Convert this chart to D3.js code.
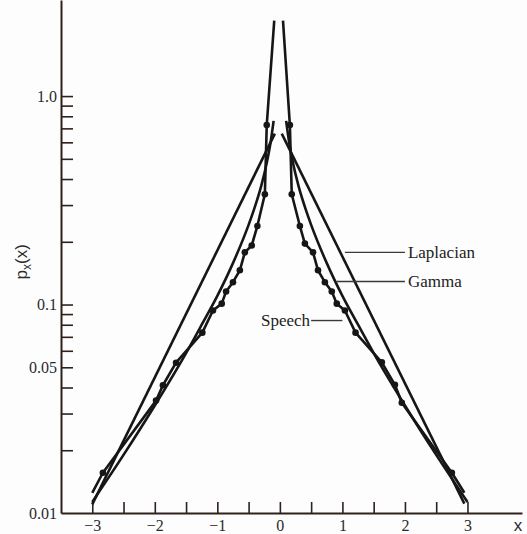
<!DOCTYPE html>
<html>
<head>
<meta charset="utf-8">
<script src="https://cdn.jsdelivr.net/npm/d3@7"></script>
<style>
  body { margin: 0; background: #fdfdfe; }
  svg { display: block; }
</style>
</head>
<body>
<svg id="chart" width="527" height="534"></svg>
<script>
// values
const xTicks = [-3, -2.5, -2, -1.5, -1, -0.5, 0, 0.5, 1, 1.5, 2, 2.5, 3];
const xTickLabels = ['\u22123', '', '\u22122', '', '\u22121', '', '0', '', '1', '', '2', '', '3'];
const yTicks = [0.02, 0.03, 0.04, 0.05, 0.06, 0.07, 0.08, 0.09, 0.1, 0.2, 0.3, 0.4, 0.5, 0.6, 0.7, 0.8, 0.9, 1.0];
const yLabelled = [0.01, 0.05, 0.1, 1.0];

// Laplacian (straight on the log axis)
const laplaceLeftX = [-3.0, -0.08];
const laplaceLeftP = [0.0110, 0.66];
const laplaceRightX = [0.03, 2.95];
const laplaceRightP = [0.66, 0.0111];

// Gamma density
const gammaX = [0.1, 0.15, 0.2, 0.3, 0.4, 0.5, 0.75, 1, 1.25, 1.5, 2, 2.5, 3.0];
const gammaP = [0.76, 0.595, 0.494, 0.369, 0.294, 0.241, 0.158, 0.110, 0.080, 0.0585, 0.0328, 0.0190, 0.0113];

// Speech histogram (line through the dots, spike at the centre)
const speechLeftX = [-3.0, -2.83, -1.98, -1.87, -1.66, -1.24, -1.07, -0.93, -0.86, -0.75, -0.64, -0.56, -0.45, -0.36, -0.24, -0.21, -0.09];
const speechLeftP = [0.0125, 0.0156, 0.0346, 0.041, 0.0526, 0.0733, 0.0936, 0.101, 0.1155, 0.128, 0.146, 0.178, 0.192, 0.238, 0.338, 0.726, 2.3];
const speechRightX = [0.05, 0.16, 0.19, 0.32, 0.40, 0.53, 0.61, 0.72, 0.83, 0.91, 1.04, 1.21, 1.63, 1.84, 1.95, 2.75, 2.95];
const speechRightP = [2.3, 0.726, 0.338, 0.238, 0.196, 0.178, 0.146, 0.128, 0.1155, 0.101, 0.0936, 0.0733, 0.0528, 0.0412, 0.0338, 0.0156, 0.0125];

// labels: [text, leader start x, leader end x, p]
const callouts = [
  ['Laplacian', 1.04, 2.0, 0.178],
  ['Gamma', 0.91, 2.0, 0.129]
];
const speechCallout = ['Speech', 0.5, 1.0, 0.0838];

const svg = d3.select('#chart');
const axisColor = '#2e211b';

const x = d3.scaleLinear().domain([-3.5, 3.872]).range([61, 522]);
const y = d3.scaleLog().domain([0.01, 2.89]).range([513, 0]);

// y axis
const yAxis = d3.axisLeft(y)
  .tickValues(yTicks.concat([0.01]))
  .tickSizeInner(-12)
  .tickSizeOuter(0)
  .tickPadding(4)
  .tickFormat(d => yLabelled.some(v => Math.abs(v - d) < 1e-9) ? (d === 1 ? '1.0' : String(d)) : '');

const gy = svg.append('g')
  .attr('transform', `translate(${x(-3.5)},0)`)
  .call(yAxis);

// x axis
const xAxis = d3.axisBottom(x)
  .tickValues(xTicks)
  .tickSizeInner(-11)
  .tickSizeOuter(0)
  .tickPadding(7)
  .tickFormat((d, i) => xTickLabels[i]);

const gx = svg.append('g')
  .attr('transform', `translate(0,${y(0.01)})`)
  .call(xAxis);

[gx, gy].forEach(g => {
  g.select('.domain').attr('stroke', axisColor).attr('stroke-width', 2);
  g.selectAll('.tick line').attr('stroke', axisColor).attr('stroke-width', 1.6);
  g.selectAll('.tick text')
    .attr('fill', '#2a2a2a')
    .style('font-family', '"Liberation Serif", "DejaVu Serif", serif')
    .style('font-size', '16px');
});
gy.selectAll('.tick').filter(d => d === 0.01).select('line').remove();

// axis titles
svg.append('text')
  .attr('x', x(3.872) - 4)
  .attr('y', y(0.01) + 18)
  .attr('text-anchor', 'middle')
  .style('font-family', '"Liberation Sans", Arial, sans-serif')
  .style('font-size', '17px')
  .attr('fill', '#2a2a2a')
  .text('x');

const yt = svg.append('text')
  .attr('transform', `translate(27,${y(0.2) + 20}) rotate(-90)`)
  .attr('text-anchor', 'middle')
  .style('font-family', '"Liberation Sans", Arial, sans-serif')
  .style('font-size', '17px')
  .attr('fill', '#2a2a2a');
yt.append('tspan').text('p');
yt.append('tspan').attr('dy', 4).style('font-size', '12px').text('x');
yt.append('tspan').attr('dy', -4).text('(x)');

// curves
const zip = (xs, ps) => xs.map((v, i) => [v, ps[i]]);
const line = d3.line().x(d => x(d[0])).y(d => y(d[1]));
const smooth = d3.line().x(d => x(d[0])).y(d => y(d[1])).curve(d3.curveMonotoneX);

const curves = svg.append('g')
  .attr('fill', 'none')
  .attr('stroke', '#161616')
  .attr('stroke-width', 2.6)
  .attr('stroke-linejoin', 'round');

curves.append('path').attr('d', line(zip(laplaceLeftX, laplaceLeftP)));
curves.append('path').attr('d', line(zip(laplaceRightX, laplaceRightP)));

const gammaRight = zip(gammaX, gammaP);
const gammaLeft = gammaRight.map(d => [-d[0], d[1]]).reverse();
curves.append('path').attr('d', smooth(gammaLeft));
curves.append('path').attr('d', smooth(gammaRight));

const speechLeft = zip(speechLeftX, speechLeftP);
const speechRight = zip(speechRightX, speechRightP);
curves.append('path').attr('d', line(speechLeft));
curves.append('path').attr('d', line(speechRight));

// speech histogram dots (line endpoints are not dots)
const dots = speechLeft.slice(1, -1).concat(speechRight.slice(1, -1));
svg.append('g').selectAll('circle')
  .data(dots)
  .enter().append('circle')
  .attr('cx', d => x(d[0]))
  .attr('cy', d => y(d[1]))
  .attr('r', 3.3)
  .attr('fill', '#161616');

// callouts
const labelFont = '"Liberation Serif", "DejaVu Serif", serif';
callouts.forEach(c => {
  svg.append('line')
    .attr('x1', x(c[1])).attr('x2', x(c[2]))
    .attr('y1', y(c[3])).attr('y2', y(c[3]))
    .attr('stroke', '#3a3a3a').attr('stroke-width', 1.4);
  svg.append('text')
    .attr('x', x(c[2]) + 3)
    .attr('y', y(c[3]))
    .attr('dy', '0.35em')
    .style('font-family', labelFont)
    .style('font-size', '17px')
    .attr('fill', '#222')
    .text(c[0]);
});
svg.append('line')
  .attr('x1', x(speechCallout[1])).attr('x2', x(speechCallout[2]))
  .attr('y1', y(speechCallout[3])).attr('y2', y(speechCallout[3]))
  .attr('stroke', '#3a3a3a').attr('stroke-width', 1.4);
svg.append('text')
  .attr('x', x(speechCallout[1]) - 1)
  .attr('y', y(speechCallout[3]))
  .attr('dy', '0.35em')
  .attr('text-anchor', 'end')
  .style('font-family', labelFont)
  .style('font-size', '17px')
  .attr('fill', '#222')
  .text(speechCallout[0]);
</script>
</body>
</html>
